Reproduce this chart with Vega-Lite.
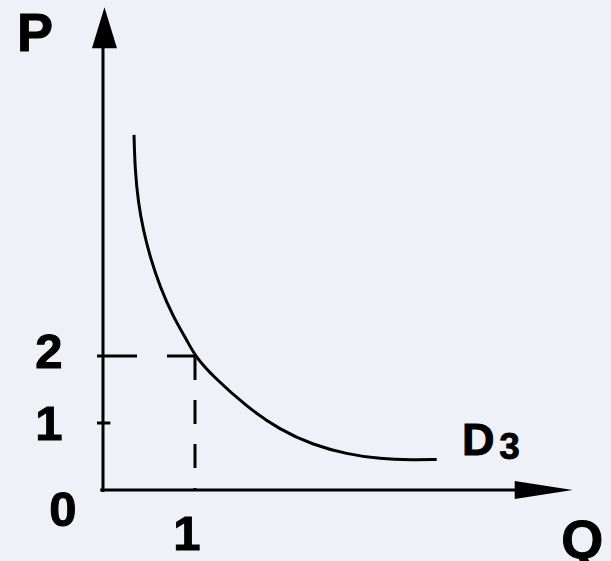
{
  "$schema": "https://vega.github.io/schema/vega-lite/v6.json",
  "width": 611,
  "height": 561,
  "autosize": {"type": "none"},
  "padding": 0,
  "background": "#eef1f8",
  "config": {"view": {"stroke": null}},
  "layer": [
    {
      "data": {"values": [
        {"q": 0, "p": -0.03, "q2": 0, "p2": 6.75},
        {"q": -0.03, "p": 0, "q2": 4.6, "p2": 0},
        {"q": -0.065, "p": 1, "q2": 0.08, "p2": 1}
      ]},
      "mark": {"type": "rule", "color": "#000", "strokeWidth": 3},
      "encoding": {
        "x": {"field": "q", "type": "quantitative", "scale": {"domain": [-1.1196, 5.5217], "nice": false, "zero": false}, "axis": null},
        "y": {"field": "p", "type": "quantitative", "scale": {"domain": [-1.0597, 7.3134], "nice": false, "zero": false}, "axis": null},
        "x2": {"field": "q2"},
        "y2": {"field": "p2"}
      }
    },
    {
      "data": {"values": [
        {"q": -0.065, "p": 2, "q2": 1, "p2": 2}
      ]},
      "mark": {"type": "rule", "color": "#000", "strokeWidth": 3, "strokeDash": [40, 30]},
      "encoding": {
        "x": {"field": "q", "type": "quantitative"},
        "y": {"field": "p", "type": "quantitative"},
        "x2": {"field": "q2"},
        "y2": {"field": "p2"}
      }
    },
    {
      "data": {"values": [
        {"q": 1, "p": 2, "q2": 1, "p2": 0}
      ]},
      "mark": {"type": "rule", "color": "#000", "strokeWidth": 3, "strokeDash": [24, 20]},
      "encoding": {
        "x": {"field": "q", "type": "quantitative"},
        "y": {"field": "p", "type": "quantitative"},
        "x2": {"field": "q2"},
        "y2": {"field": "p2"}
      }
    },
    {
      "data": {"values": [
        {"q": 0.337, "p": 5.3},
        {"q": 0.348, "p": 4.78},
        {"q": 0.384, "p": 4.28},
        {"q": 0.438, "p": 3.88},
        {"q": 0.511, "p": 3.48},
        {"q": 0.62, "p": 3.03},
        {"q": 0.764, "p": 2.58},
        {"q": 0.91, "p": 2.24},
        {"q": 1.0, "p": 2.0},
        {"q": 1.199, "p": 1.69},
        {"q": 1.562, "p": 1.243},
        {"q": 1.924, "p": 0.896},
        {"q": 2.286, "p": 0.672},
        {"q": 2.649, "p": 0.537},
        {"q": 3.011, "p": 0.462},
        {"q": 3.373, "p": 0.45},
        {"q": 3.627, "p": 0.456}
      ]},
      "mark": {"type": "line", "color": "#000", "strokeWidth": 3, "interpolate": "basis"},
      "encoding": {
        "x": {"field": "q", "type": "quantitative"},
        "y": {"field": "p", "type": "quantitative"},
        "order": {"field": "q"}
      }
    },
    {
      "data": {"values": [{"q": 0.016, "p": 6.9}]},
      "mark": {"type": "point", "shape": "M0,-1L0.61,1L-0.61,1Z", "size": 1681, "filled": true, "color": "#000", "opacity": 1},
      "encoding": {
        "x": {"field": "q", "type": "quantitative"},
        "y": {"field": "p", "type": "quantitative"}
      }
    },
    {
      "data": {"values": [{"q": 4.79, "p": 0.0}]},
      "mark": {"type": "point", "shape": "M1,0L-1,-0.31L-1,0.31Z", "size": 3364, "filled": true, "color": "#000", "opacity": 1},
      "encoding": {
        "x": {"field": "q", "type": "quantitative"},
        "y": {"field": "p", "type": "quantitative"}
      }
    },
    {
      "data": {"values": [
        {"t": "P", "q": -0.739, "p": 6.82},
        {"t": "Q", "q": 5.21, "p": -0.75}
      ]},
      "mark": {"type": "text", "font": "Liberation Sans", "fontWeight": "bold", "fontSize": 54, "align": "center", "baseline": "middle", "color": "#000", "dy": 2, "stroke": "#000", "strokeWidth": 1},
      "encoding": {
        "x": {"field": "q", "type": "quantitative"},
        "y": {"field": "p", "type": "quantitative"},
        "text": {"field": "t"}
      }
    },
    {
      "data": {"values": [
        {"t": "2", "q": -0.587, "p": 2.07},
        {"t": "1", "q": -0.587, "p": 1.0},
        {"t": "0", "q": -0.435, "p": -0.28},
        {"t": "1", "q": 0.913, "p": -0.64}
      ]},
      "mark": {"type": "text", "font": "Liberation Sans", "fontWeight": "bold", "fontSize": 49, "align": "center", "baseline": "middle", "color": "#000", "dy": 2, "stroke": "#000", "strokeWidth": 1},
      "encoding": {
        "x": {"field": "q", "type": "quantitative"},
        "y": {"field": "p", "type": "quantitative"},
        "text": {"field": "t"}
      }
    },
    {
      "data": {"values": [{"t": "D", "q": 4.08, "p": 0.76}]},
      "mark": {"type": "text", "font": "Liberation Sans", "fontWeight": "bold", "fontSize": 45, "align": "center", "baseline": "middle", "color": "#000", "dy": 2, "stroke": "#000", "strokeWidth": 1},
      "encoding": {
        "x": {"field": "q", "type": "quantitative"},
        "y": {"field": "p", "type": "quantitative"},
        "text": {"field": "t"}
      }
    },
    {
      "data": {"values": [{"t": "3", "q": 4.42, "p": 0.66}]},
      "mark": {"type": "text", "font": "Liberation Sans", "fontWeight": "bold", "fontSize": 37, "align": "center", "baseline": "middle", "color": "#000", "dy": 2, "stroke": "#000", "strokeWidth": 0.8},
      "encoding": {
        "x": {"field": "q", "type": "quantitative"},
        "y": {"field": "p", "type": "quantitative"},
        "text": {"field": "t"}
      }
    }
  ]
}
